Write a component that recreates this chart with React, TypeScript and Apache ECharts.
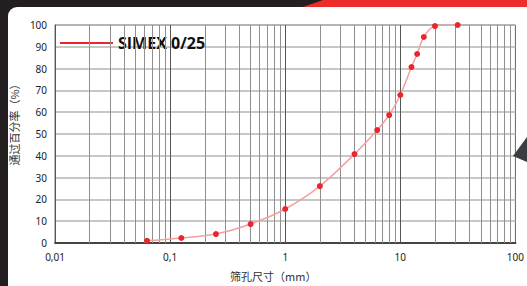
import React, { useEffect, useRef } from "react";
import * as echarts from "echarts";

const sieveSizes = [0.063, 0.125, 0.25, 0.5, 1, 2, 4, 6.3, 8, 10, 12.5, 14, 16, 20, 31.5];
const passing = [1, 2.3, 4.1, 8.7, 15.6, 26.1, 40.8, 51.8, 58.7, 67.9, 80.7, 86.7, 94.5, 99.5, 100];
const seriesName = "SIMEX 0/25";
const minorGrid = [
  0.02, 0.03, 0.04, 0.05, 0.06, 0.07, 0.08, 0.09,
  0.2, 0.3, 0.4, 0.5, 0.6, 0.7, 0.8, 0.9,
  2, 3, 4, 5, 6, 7, 8, 9,
  20, 30, 40, 50, 60, 70, 80, 90,
];
const majorGrid = [0.1, 1, 10];

export default function App() {
  const ref = useRef<HTMLDivElement>(null);
  useEffect(() => {
    document.body.style.margin = "0";
    const chart = echarts.init(ref.current!, null, { renderer: "svg" });
    const font = "'Noto Sans', 'Noto Sans CJK SC', sans-serif";
    chart.setOption({
      animation: false,
      backgroundColor: "#ffffff",
      textStyle: { fontFamily: font },
      graphic: [
        { type: "rect", z: -10, shape: { x: 0, y: 0, width: 527, height: 286 }, style: { fill: "#231f20" }, silent: true },
        { type: "rect", z: -9, shape: { x: 8, y: 7, width: 519, height: 279, r: [9, 0, 0, 0] }, style: { fill: "#ffffff" }, silent: true },
        { type: "polygon", z: -9, shape: { points: [[303, 7], [323, 0], [527, 0], [527, 7]] }, style: { fill: "#ee2d2b" }, silent: true },
        { type: "polygon", z: 10, shape: { points: [[513, 156], [527, 137], [527, 162]] }, style: { fill: "#3b3e40" }, silent: true },
      ],
      grid: { left: 48, right: 11, top: 25, bottom: 43, show: true, borderColor: "#666", borderWidth: 1 },
      legend: {
        data: [seriesName],
        left: 55,
        top: 30,
        icon: "rect",
        itemWidth: 53,
        itemHeight: 2,
        itemGap: 5,
        itemStyle: { color: "#e8262b" },
        textStyle: {
          fontSize: 16,
          fontWeight: "bold",
          color: "#111",
          fontFamily: "'Liberation Sans Narrow', 'Open Sans', sans-serif",
        },
      },
      xAxis: {
        type: "log",
        logBase: 10,
        min: 0.01,
        max: 100,
        name: "筛孔尺寸（mm）",
        nameLocation: "middle",
        nameGap: 27,
        nameTextStyle: {
          fontSize: 11,
          color: "#333",
          fontFamily: "'Noto Sans CJK SC', sans-serif",
          padding: [0, 24, 0, 0],
        },
        axisLine: { lineStyle: { color: "#444", width: 2 } },
        axisTick: { show: false },
        axisLabel: {
          fontSize: 10,
          color: "#222",
          margin: 9,
          formatter: (v: number) => String(Number(v.toPrecision(6))).replace(".", ","),
        },
        splitLine: { show: false },
      },
      yAxis: {
        type: "value",
        min: 0,
        max: 100,
        interval: 10,
        name: "通过百分率（%）",
        nameLocation: "middle",
        nameGap: 31,
        nameTextStyle: {
          fontSize: 11,
          color: "#333",
          fontFamily: "'Noto Sans CJK SC', sans-serif",
          padding: [0, 0, 0, 24],
        },
        axisLine: { show: true, lineStyle: { color: "#555", width: 1 } },
        axisTick: { show: false },
        axisLabel: { fontSize: 10, color: "#222", margin: 8 },
        splitLine: { show: true, lineStyle: { color: "#b5b5b5", width: 1.5 } },
      },
      series: [
        {
          name: "grid-minor",
          type: "line",
          data: [],
          silent: true,
          markLine: {
            silent: true,
            symbol: "none",
            label: { show: false },
            lineStyle: { color: "#8f8f8f", width: 1, type: "solid" },
            data: minorGrid.map((v) => ({ xAxis: v })),
          },
        },
        {
          name: "grid-major",
          type: "line",
          data: [],
          silent: true,
          markLine: {
            silent: true,
            symbol: "none",
            label: { show: false },
            lineStyle: { color: "#555", width: 1, type: "solid" },
            data: majorGrid.map((v) => ({ xAxis: v })),
          },
        },
        {
          name: seriesName,
          type: "line",
          smooth: 0.3,
          data: sieveSizes.map((s, i) => [s, passing[i]]),
          symbol: "circle",
          symbolSize: 6,
          itemStyle: { color: "#e8262b" },
          lineStyle: { color: "#f5a0a0", width: 1.5 },
          z: 5,
        },
      ],
    });
    return () => chart.dispose();
  }, []);
  return <div ref={ref} style={{ position: "absolute", left: 0, top: 0, width: 527, height: 286 }} />;
}
